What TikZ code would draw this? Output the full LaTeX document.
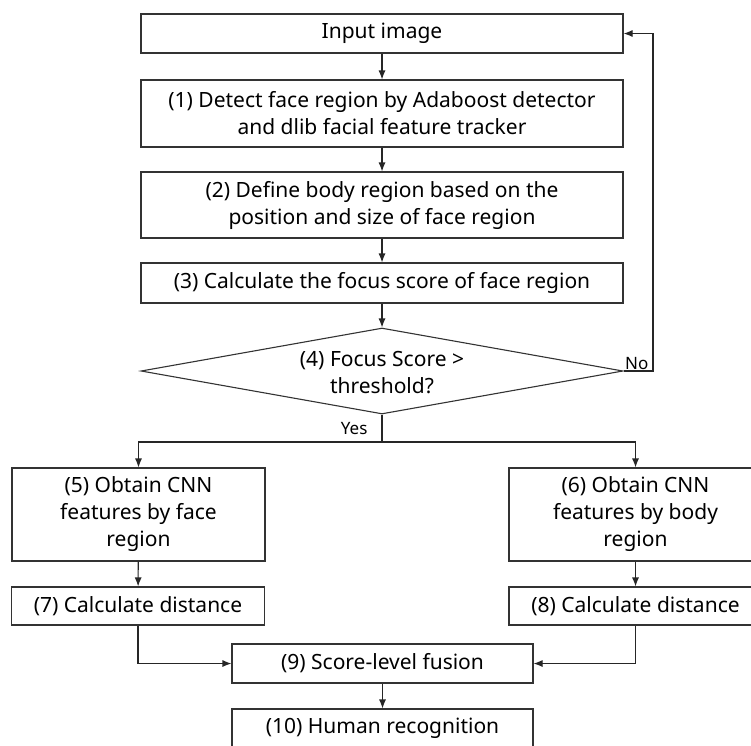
\documentclass[tikz,border=0pt]{standalone}
\usepackage{fontspec}
\setmainfont{Noto Sans}
\usetikzlibrary{arrows.meta,shapes.geometric,calc}
\begin{document}
\begin{tikzpicture}[x=1pt,y=-1pt,
  line width=1.1pt, color=black!85,
  stepbox/.style={draw=black!80, rectangle, inner sep=0pt, align=center,
    font=\fontsize{21}{27}\selectfont, text=black},
  lbl/.style={font=\fontsize{17}{19}\selectfont, inner sep=1pt, text=black},
  arr/.style={-{Latex[length=9pt,width=7pt]}}]
\fill[white] (0,0) rectangle (751,745);
\clip (0,0) rectangle (751,745);
\node[stepbox, minimum width=482pt, minimum height=39pt] (in) at (382,33.5) {Input image};
\node[stepbox, minimum width=482pt, minimum height=67pt] (b1) at (382,113.5) {(1) Detect face region by Adaboost detector\\and dlib facial feature tracker};
\node[stepbox, minimum width=482pt, minimum height=66pt] (b2) at (382,205) {(2) Define body region based on the\\position and size of face region};
\node[stepbox, minimum width=482pt, minimum height=40pt] (b3) at (382,283) {(3) Calculate the focus score of face region};
\node[draw=black!80, diamond, aspect=5.6, inner sep=0pt, minimum width=482pt, minimum height=86pt] (d) at (382,371) {};
\node[stepbox, draw=none] (dt) at (382,373) {(4) Focus Score >\\threshold?};
\node[stepbox, minimum width=253pt, minimum height=93pt] (b5) at (138.5,514.5) {(5) Obtain CNN\\features by face\\region};
\node[stepbox, minimum width=253pt, minimum height=93pt] (b6) at (635.5,514.5) {(6) Obtain CNN\\features by body\\region};
\node[stepbox, minimum width=253pt, minimum height=38pt] (b7) at (138,606) {(7) Calculate distance};
\node[stepbox, minimum width=253pt, minimum height=38pt] (b8) at (635.5,606) {(8) Calculate distance};
\node[stepbox, minimum width=301pt, minimum height=39pt] (b9) at (382.5,663.5) {(9) Score-level fusion};
\node[stepbox, minimum width=301pt, minimum height=39pt] (b10) at (382.5,728.5) {(10) Human recognition};
\coordinate (split) at (382,442);
\coordinate (fb) at (653,371);
\draw[arr] (in) -- (b1);
\draw[arr] (b1) -- (b2);
\draw[arr] (b2) -- (b3);
\draw[arr] (b3) -- (d);
\draw (d.south) -- (split);
\draw[arr] (split) -| (b5.north);
\draw[arr] (split) -| (b6.north);
\draw[arr] (b5) -- (b7);
\draw[arr] (b6) -- (b8);
\draw[arr] (b7.south) |- (b9.west);
\draw[arr] (b8.south) |- (b9.east);
\draw[arr] (b9) -- (b10);
\draw[arr] (d.east) -- (fb) |- (in.east);
\node[lbl, anchor=south west] (no) at (d.east) {No};
\node[lbl, anchor=east] (yes) at ($(d.south)+(-13,14)$) {Yes};
\end{tikzpicture}
\end{document}
